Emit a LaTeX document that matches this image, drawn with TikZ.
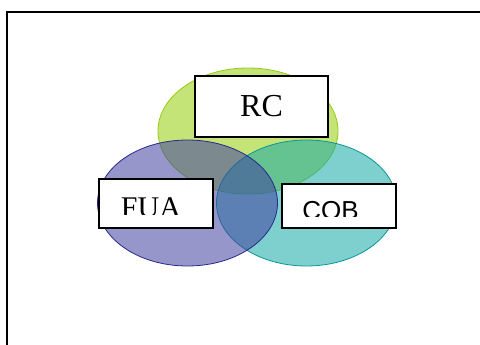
\documentclass[tikz,border=0pt]{standalone}
\usepackage{fontspec}
\setmainfont{Liberation Serif}
\newfontfamily\arialfont{Liberation Sans}
\usetikzlibrary{shapes.geometric}

\definecolor{rcgreen}{RGB}{150,205,10}
\definecolor{rcedge}{RGB}{150,200,20}
\definecolor{fuablue}{RGB}{64,64,160}
\definecolor{fuaedge}{RGB}{40,40,140}
\definecolor{cobteal}{RGB}{20,170,165}
\definecolor{cobedge}{RGB}{10,150,150}

\begin{document}
\begin{tikzpicture}[x=1pt, y=-1pt,
    set/.style={ellipse, minimum width=180pt, minimum height=126pt, inner sep=0pt,
      fill opacity=0.55, draw opacity=1, line width=0.8pt},
    labelbox/.style={draw=black, fill=white, line width=1.3pt, inner sep=0pt}]
  \useasboundingbox (0,0) rectangle (480,345);

  % Frame
  \draw[line width=1.8pt] (7,350) -- (7,12) -- (485,12);

  % Sets
  \node[set, fill=rcgreen, draw=rcedge] (rc) at (248,131) {};
  \node[set, fill=cobteal, draw=cobedge] (cob) at (306.5,203) {};
  \node[set, fill=fuablue, draw=fuaedge] (fua) at (187.5,203) {};

  % Labels
  \node[labelbox, minimum width=133pt, minimum height=61pt,
    font=\fontsize{32}{32}\selectfont] (rclabel) at (261.5,106.5) {RC};
  \node[labelbox, minimum width=114pt, minimum height=49pt] (fualabel) at (156,203.5) {};
  \node[labelbox, minimum width=114pt, minimum height=44pt] (coblabel) at (339,206) {};

  % Label texts, cut at the bottom
  \begin{scope}
    \clip (100,180) rectangle (212,214);
    \node[anchor=base, inner sep=0pt, font=\fontsize{30}{30}\selectfont] (fuatext) at (151,217) {FUA};
  \end{scope}
  \begin{scope}
    \clip (283,185) rectangle (395,216);
    \node[anchor=base, inner sep=0pt, font=\arialfont\fontsize{26}{26}\selectfont] (cobtext) at (330.5,219) {COB};
  \end{scope}
\end{tikzpicture}
\end{document}
